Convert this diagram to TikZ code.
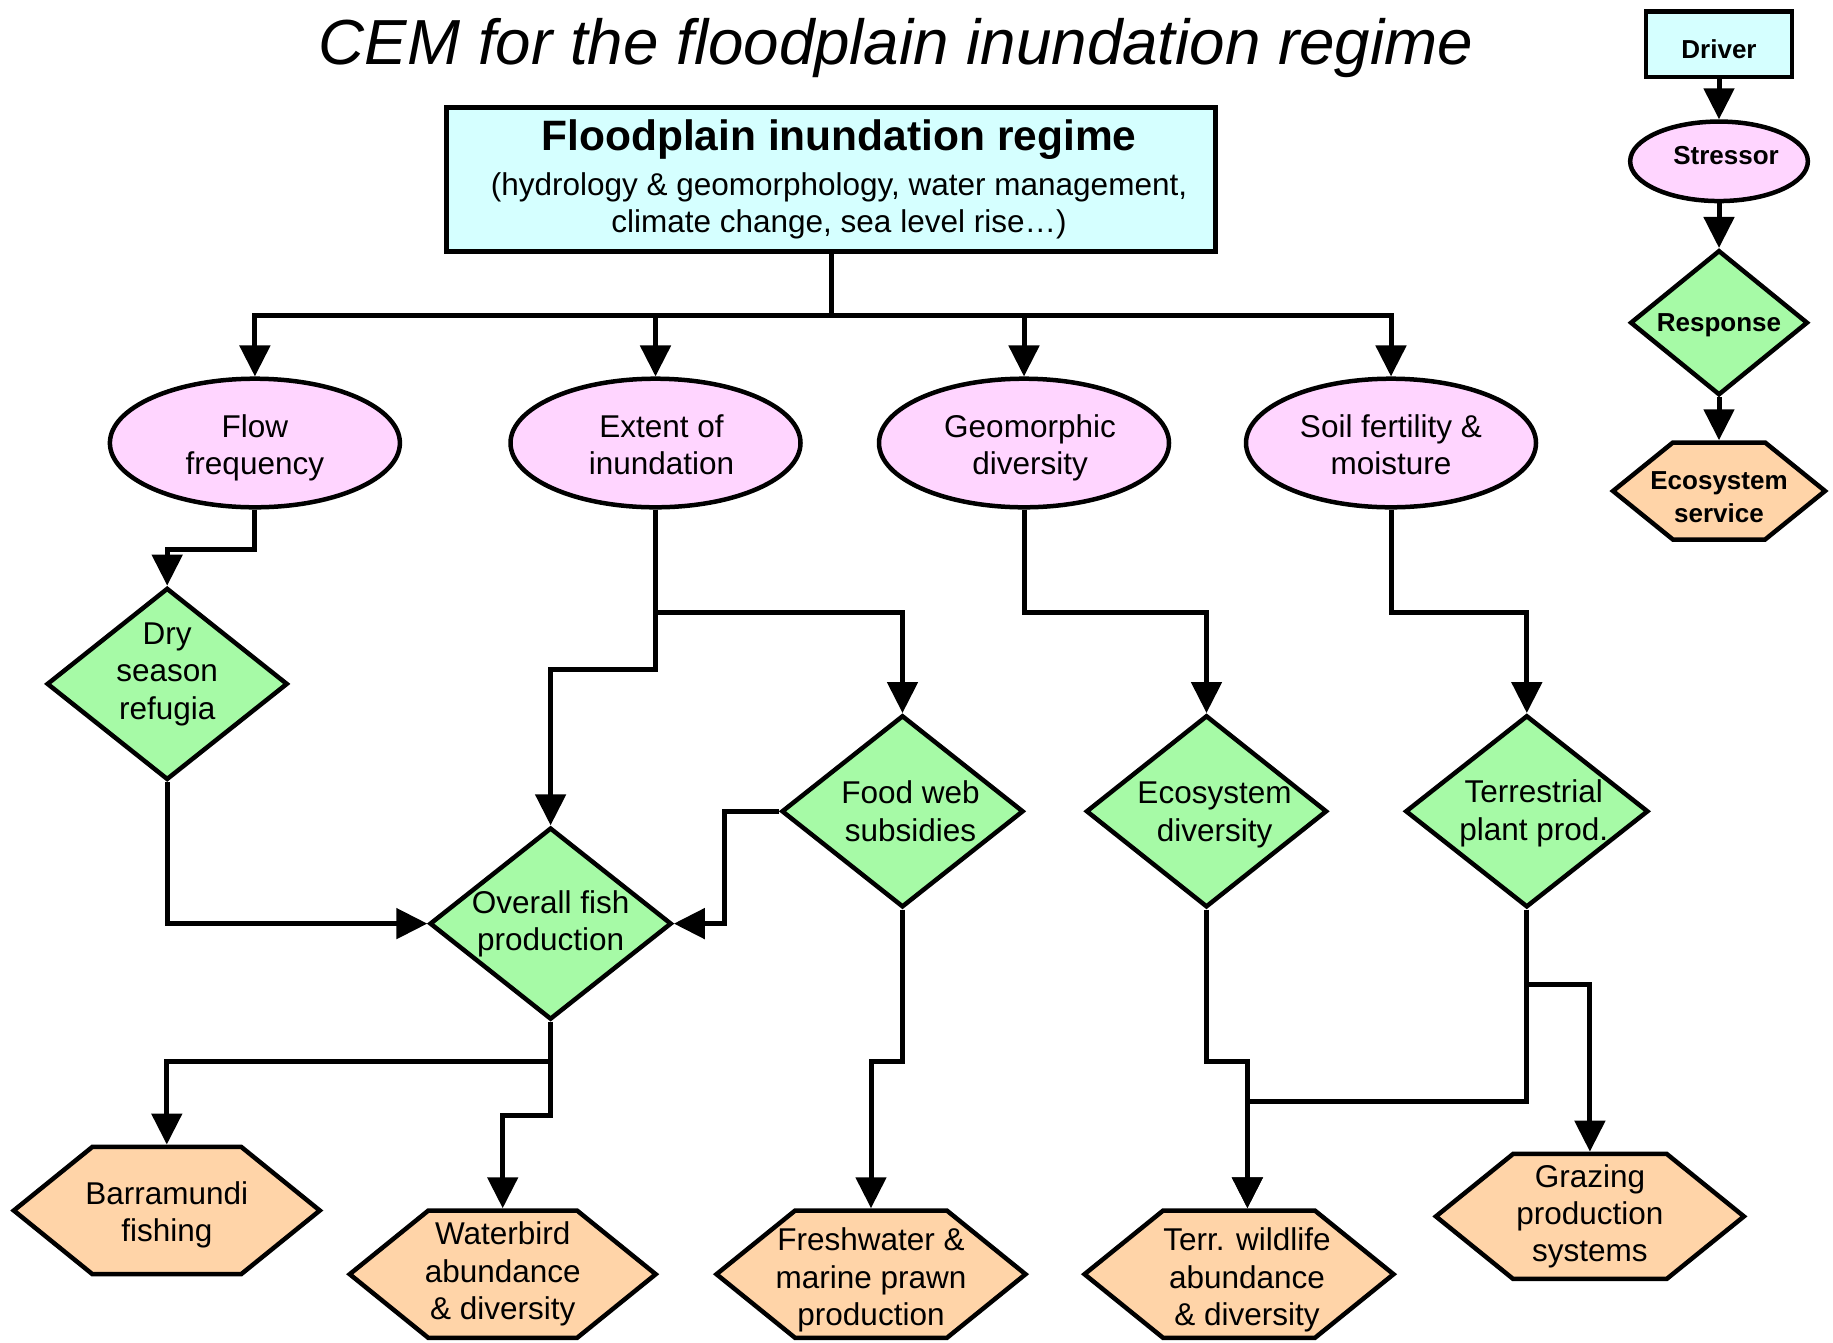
\documentclass[tikz,border=0pt]{standalone}
\usepackage{fontspec}
\setmainfont{Liberation Sans}
\usetikzlibrary{shapes.geometric,shapes.symbols,arrows.meta}
\definecolor{drvfill}{HTML}{D5FFFF}
\definecolor{strfill}{HTML}{FFD5FF}
\definecolor{rspfill}{HTML}{A6FAA6}
\definecolor{svcfill}{HTML}{FFD4A8}
\newcommand{\nfont}{\fontsize{31.5}{37.4}\selectfont}
\newcommand{\lfont}{\fontsize{26}{32.7}\selectfont\bfseries}
\begin{document}
\begin{tikzpicture}[x=1pt,y=-1pt,
  bd/.style={draw=black, line width=4.5pt, line join=miter},
  drvbox/.style={bd, rectangle, fill=drvfill, inner sep=0pt},
  strell/.style={bd, ellipse, fill=strfill, inner sep=0pt, minimum width=290pt, minimum height=128.6pt},
  rspdia/.style={bd, diamond, fill=rspfill, inner sep=0pt, minimum width=242pt, minimum height=192pt},
  svchex/.style={bd, signal, signal to=east and west, signal pointer angle=78, fill=svcfill, inner sep=0pt, minimum width=306pt, minimum height=127.4pt},
  txt/.style={align=center, font=\nfont, inner sep=0pt},
  arr/.style={line width=5pt, line join=miter, -{Triangle[length=31pt,width=30pt]}},
]
\useasboundingbox (0,0) rectangle (1833,1342);
\fill[white] (0,0) rectangle (1833,1342);

% title
\node[font=\fontsize{63.7}{70}\selectfont\itshape] (title) at (896,48) {CEM for the floodplain inundation regime};

% driver
\node[drvbox, minimum width=769pt, minimum height=144pt,
  label={[txt,xshift=8pt]center:{\fontsize{42.5}{48}\selectfont\bfseries Floodplain inundation regime}\\[7pt]
   (hydrology \& geomorphology, water management,\\ climate change, sea level rise…)}] (main) at (831,179.5) {};

% stressors
\node[strell, label={[txt,yshift=-5pt]center:Flow\\frequency}] (flow) at (254.9,443) {};
\node[strell, label={[txt,yshift=-1.5pt,xshift=6pt]center:Extent of\\inundation}] (ext) at (655.5,443) {};
\node[strell, label={[txt,yshift=-5pt,xshift=6pt]center:Geomorphic\\diversity}] (geo) at (1024,443) {};
\node[strell, label={[txt,yshift=-1.5pt]center:Soil fertility \&\\moisture}] (soil) at (1391,443) {};

% responses
\node[rspdia, minimum width=241pt, label={[txt,yshift=9.5pt]center:Dry\\season\\refugia}] (dry) at (167.2,683.9) {};
\node[rspdia, label={[txt]center:Overall fish\\production}] (fish) at (550.6,923.6) {};
\node[rspdia, label={[txt,xshift=8pt]center:Food web\\subsidies}] (food) at (902.5,811.3) {};
\node[rspdia, minimum width=241pt, label={[txt,xshift=8pt,yshift=-3.5pt]center:Ecosystem\\diversity}] (ecodiv) at (1206.5,811.3) {};
\node[rspdia, minimum width=243pt, label={[txt,xshift=7pt,yshift=-2pt]center:Terrestrial\\plant prod.}] (terr) at (1526.8,811.3) {};

% services
\node[svchex, minimum width=306pt, label={[txt,yshift=-4.5pt]center:Barramundi\\fishing}] (barra) at (166.8,1210.5) {};
\node[svchex, label={[txt]center:Waterbird\\abundance\\\& diversity}] (water) at (502.7,1274.2) {};
\node[svchex, minimum width=309pt, label={[txt,yshift=-6pt]center:Freshwater \&\\marine prawn\\production}] (fresh) at (871,1274.2) {};
\node[svchex, minimum width=309pt, label={[txt,xshift=8pt,yshift=-6pt]center:Terr. wildlife\\abundance\\\& diversity}] (wild) at (1239,1274.2) {};
\node[svchex, minimum width=308pt, minimum height=125pt, label={[txt]center:Grazing\\production\\systems}] (graze) at (1589.9,1216.4) {};

% legend
\node[drvbox, minimum width=146pt, minimum height=65.5pt, label={[txt,font=\lfont,yshift=-4.5pt]center:Driver}] (ldrv) at (1719,44.4) {};
\node[bd, ellipse, fill=strfill, inner sep=0pt, minimum width=177.7pt, minimum height=79.5pt, label={[txt,font=\lfont,xshift=7pt,yshift=5.5pt]center:Stressor}] (lstr) at (1719,161.3) {};
\node[rspdia, minimum width=177.7pt, minimum height=145pt, label={[txt,font=\lfont,yshift=-3pt]center:Response}] (lrsp) at (1719,322.7) {};
\node[svchex, minimum width=212pt, minimum height=97pt, label={[txt,font=\lfont,yshift=-6.5pt]center:Ecosystem\\service}] (lsvc) at (1719,491) {};

% connectors
\coordinate (bus) at (830,315.6);
\coordinate (wildin) at ([xshift=8.4pt]wild.north);
\foreach \t in {flow,ext,geo,soil}
  \draw[arr] (main.south) -- (main.south |- bus) -| (\t.north);
\draw[arr] (flow.south) -- ++(0,39.7) -| (dry.north);
\draw[arr] (dry.south) |- (fish.west);
\draw[arr] (ext.south) -- ++(0,102.8) -| (food.north);
\draw[arr] (ext.south) -- ++(0,160.1) -| (fish.north);
\draw[arr] (food.west) -- ++(-54.9,0) |- (fish.east);
\draw[arr] (fish.south) -- ++(0,39.8) -| (barra.north);
\draw[arr] (fish.south) -- ++(0,93.6) -| (water.north);
\draw[arr] (food.south) -- ++(0,152) -| (fresh.north);
\draw[arr] (geo.south) -- ++(0,102.8) -| (ecodiv.north);
\draw[arr] (soil.south) -- ++(0,102.8) -| (terr.north);
\draw[arr] (ecodiv.south) -- ++(0,152) -| (wildin);
\draw[arr] (terr.south) -- ++(0,191.7) -| (wildin);
\draw[arr] (terr.south) -- ++(0,74.8) -| (graze.north);

\draw[arr] (ldrv) -- (lstr);
\draw[arr] (lstr) -- (lrsp);
\draw[arr] (lrsp) -- (lsvc);
\end{tikzpicture}
\end{document}
